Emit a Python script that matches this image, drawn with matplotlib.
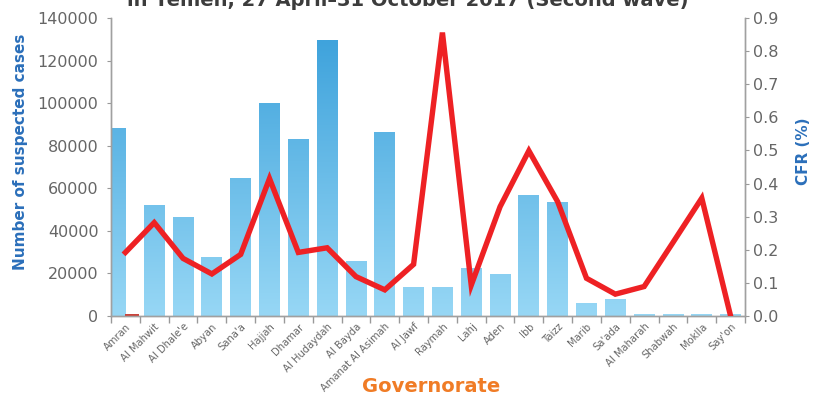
import numpy as np
import matplotlib
matplotlib.use("Agg")
import matplotlib.pyplot as plt
from matplotlib.colors import LinearSegmentedColormap

governorates = ["Amran", "Al Mahwit", "Al Dhale'e", "Abyan", "Sana'a", "Hajjah", "Dhamar",
                "Al Hudaydah", "Al Bayda", "Amanat Al Asimah", "Al Jawf", "Raymah", "Lahj",
                "Aden", "Ibb", "Taizz", "Marib", "Sa'ada", "Al Maharah", "Shabwah", "Moklla", "Say'on"]
cases = [88000, 51800, 46400, 27700, 64800, 99600, 82700, 129500, 25400, 86400, 13200, 13200,
         22400, 19300, 56400, 53400, 6100, 7700, 800, 800, 800, 800]
cfr = [0.192, 0.282, 0.174, 0.127, 0.186, 0.415, 0.192, 0.206, 0.119, 0.079, 0.156, 0.856,
       0.093, 0.330, 0.499, 0.345, 0.114, 0.066, 0.089, 0.222, 0.356, 0.0]
amran_second = 800
left_ticks = [0, 20000, 40000, 60000, 80000, 100000, 120000, 140000]
right_ticks = [0.0, 0.1, 0.2, 0.3, 0.4, 0.5, 0.6, 0.7, 0.8, 0.9]

W, H = 818, 401
fig = plt.figure(figsize=(W / 100, H / 100), dpi=100)
ax = fig.add_axes([111 / W, 1 - 316 / H, (745 - 111) / W, (316 - 18) / H])
ax2 = ax.twinx()

cmap = LinearSegmentedColormap.from_list("bl", ["#97d7f5", "#3fa3dc"])
x = np.arange(len(governorates))
bw = 0.72
for i, v in enumerate(cases):
    if i == 0:
        x0, x1 = -0.5, 0.0
    else:
        x0, x1 = i - bw / 2, i + bw / 2
    g = np.linspace(0, v, 256).reshape(-1, 1)
    ax.imshow(g, cmap=cmap, vmin=0, vmax=130000, extent=(x0, x1, 0, v), origin="lower",
              aspect="auto", zorder=2, interpolation="bilinear")
ax.bar(0.24, amran_second, width=0.48, color="#c9443c", zorder=3)

ax2.plot(x, cfr, color="#ee2124", lw=3.9, solid_joinstyle="miter", zorder=5)

ax.set_xlim(-0.5, len(governorates) - 0.5)
ax.set_ylim(0, 140000)
ax2.set_ylim(0, 0.9)
ax.set_yticks(left_ticks)
ax.set_yticklabels([str(t) for t in left_ticks])
ax2.set_yticks(right_ticks)
ax2.set_yticklabels([f"{t:.1f}" for t in right_ticks])

ax.set_xticks(x)
ax.set_xticklabels(governorates, rotation=45, ha="right", rotation_mode="anchor",
                   fontsize=7.2, color="#666666")
ax.set_xticks(np.arange(-0.5, len(governorates)), minor=True)
ax.tick_params(axis="x", which="major", length=0, pad=4)
ax.tick_params(axis="x", which="minor", length=5, color="#999999", width=1)
ax.tick_params(axis="y", length=3, color="#999999", labelsize=11.5, labelcolor="#666666", pad=6)
ax2.tick_params(axis="y", length=3, color="#999999", labelsize=11.5, labelcolor="#666666", pad=3)

for a in (ax, ax2):
    a.spines["top"].set_visible(False)
    for s in ("left", "right", "bottom"):
        a.spines[s].set_color("#a0a0a0")
        a.spines[s].set_linewidth(1)
ax.set_zorder(ax2.get_zorder() - 1)
ax.patch.set_visible(False)

fig.text(21 / W, 1 - 152 / H, "Number of suspected cases", color="#2b6fba", fontsize=11,
         fontweight="bold", rotation=90, ha="center", va="center")
fig.text(804 / W, 1 - 151 / H, "CFR (%)", color="#2b6fba", fontsize=11,
         fontweight="bold", rotation=90, ha="center", va="center")
fig.text(431 / W, 1 - 387 / H, "Governorate", color="#f07c26", fontsize=14,
         fontweight="bold", ha="center", va="center")
fig.text(408 / W, 1 - 0 / H, "in Yemen, 27 April\u201331 October 2017 (Second wave)",
         color="#3c3c3c", fontsize=14, fontweight="bold", ha="center", va="center")

fig.savefig("out.png", dpi=100)
